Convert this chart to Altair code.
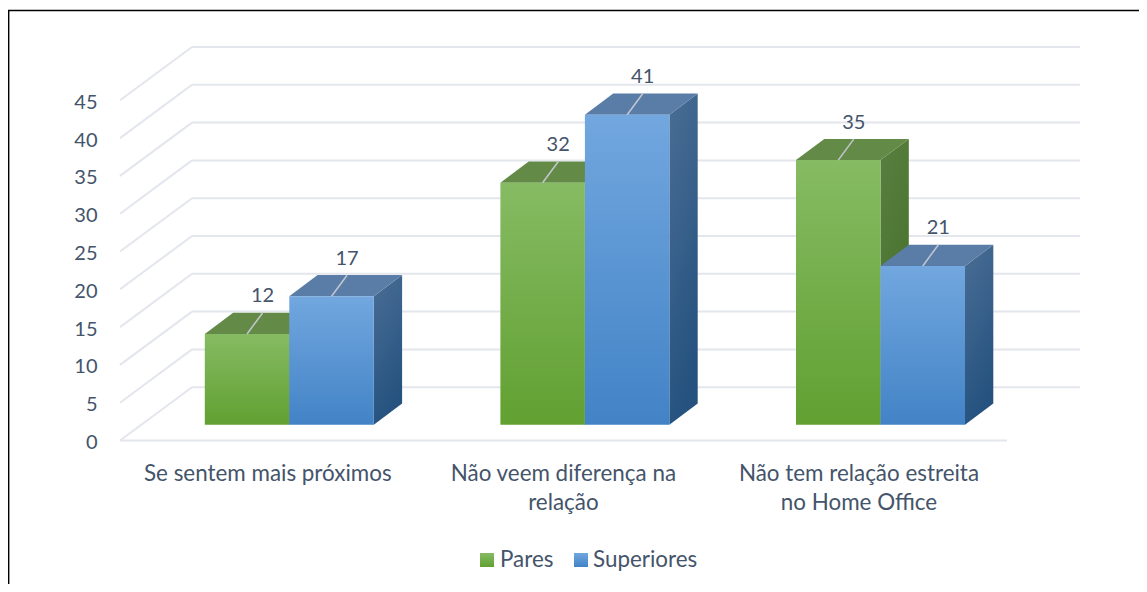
import altair as alt
import pandas as pd

# ---- values ----
categories = ["Se sentem mais próximos", "Não veem diferença na\nrelação", "Não tem relação estreita\nno Home Office"]
pares = [12, 32, 35]
superiores = [17, 41, 21]
y_ticks = [0, 5, 10, 15, 20, 25, 30, 35, 40, 45]
legend_names = ["Pares", "Superiores"]

# ---- layout (page pixels -> scale units) ----
W, H = 1131, 576
PX_PER_UNIT = 7.56
ZERO_PX = 440.5
def X(px): return px - 8
def V(py): return (ZERO_PX - py) / PX_PER_UNIT

xs = alt.Scale(domain=[0, W], range=[0, W], nice=False, zero=False)
ys = alt.Scale(domain=[V(8 + H), V(8)], range=[H, 0], nice=False, zero=False)
INK = "#44546A"
FONT = "Lato"
GRID = "#E3E6EC"
TEXT_SIZE = 22.4
NUM_SIZE = 20

BACK_RISE = 53.3 / PX_PER_UNIT
BASE = (ZERO_PX - 424.7) / PX_PER_UNIT
D_X, D_Y = 28.3, 21.2 / PX_PER_UNIT
GROUP_LEFT = [204.8, 500.4, 796.0]
BAR_W = 84.5

Y_AXIS = alt.Axis(values=y_ticks, title=None, domain=False, ticks=False, grid=False,
                  labelFont=FONT, labelFontSize=NUM_SIZE, labelColor=INK, labelPadding=0,
                  offset=-89, labelFlush=False, labelOverlap=False, labelOffset=2)

def grad(c1, c2, x2=0, y2=1):
    return alt.Gradient(gradient="linear", x1=0, y1=0, x2=x2, y2=y2,
                        stops=[alt.GradientStop(offset=0, color=c1), alt.GradientStop(offset=1, color=c2)])
def X_(f): return alt.X(f, type="quantitative", scale=xs, axis=None)
def Y_(f): return alt.Y(f, type="quantitative", scale=ys, axis=Y_AXIS)

# grid
grid_rows = []
for t in y_ticks:
    grid_rows.append(dict(x=X(120), x2=X(192), y=t, y2=t + BACK_RISE))
    grid_rows.append(dict(x=X(192), x2=X(1080), y=t + BACK_RISE, y2=t + BACK_RISE))
grid_rows.append(dict(x=X(120), x2=X(1007), y=0, y2=0))
grid = alt.Chart(pd.DataFrame(grid_rows)).mark_rule(color=GRID, strokeWidth=2).encode(
    x=X_("x"), x2="x2", y=Y_("y"), y2="y2")

def series(values, offset, front, side, top):
    f_rows, s_rows, t_rows = [], [], []
    for i, v in enumerate(values):
        x0 = X(GROUP_LEFT[i] + offset * BAR_W)
        x1 = x0 + BAR_W
        f_rows.append(dict(x=x0, x2=x1, y=BASE, y2=BASE + v))
        s_rows += [dict(g=i, x=x1, y=BASE, y2=BASE + v), dict(g=i, x=x1 + D_X, y=BASE + D_Y, y2=BASE + D_Y + v)]
        t_rows += [dict(g=i, y=BASE + v, x=x0, x2=x1), dict(g=i, y=BASE + v + D_Y, x=x0 + D_X, x2=x1 + D_X)]
    fr = alt.Chart(pd.DataFrame(f_rows)).mark_rect(color=grad(*front)).encode(
        x=X_("x"), x2="x2", y=Y_("y"), y2="y2")
    sd = alt.Chart(pd.DataFrame(s_rows)).mark_area(color=grad(side[0], side[1], x2=0.3, y2=1)).encode(
        x=X_("x"), y=Y_("y"), y2="y2", detail="g:N")
    tp = alt.Chart(pd.DataFrame(t_rows)).mark_area(color=top, orient="horizontal").encode(
        y=Y_("y"), x=X_("x"), x2="x2", detail="g:N")
    return [sd, tp, fr]

GREEN = ("#86BB63", "#61A031")
BLUE = ("#72A7DF", "#4283C6")
bars = series(pares, 0, GREEN, ("#587F3F", "#466F2A"), "#638B47") + \
       series(superiores, 1, BLUE, ("#4A6E95", "#25527F"), "#5A7DA8")

# value labels + leader lines
rows = []
for off, vals in ((0, pares), (1, superiores)):
    for i, v in enumerate(vals):
        mid = X(GROUP_LEFT[i] + (off + 0.5) * BAR_W)
        rows.append(dict(x=mid, x2=mid + 15.5, y=BASE + v, y2=BASE + v + 21 / PX_PER_UNIT,
                         ty=BASE + v + 31.5 / PX_PER_UNIT, label=str(v)))
lab = pd.DataFrame(rows)
leaders = alt.Chart(lab).mark_rule(color="#C3C7CF", strokeWidth=1.5).encode(x=X_("x"), x2="x2", y=Y_("y"), y2="y2")
labels = alt.Chart(lab).mark_text(font=FONT, fontSize=NUM_SIZE, color=INK, baseline="alphabetic", align="center").encode(
    x=X_("x2"), y=Y_("ty"), text="label:N")

# category labels
cat = pd.DataFrame({"c": categories,
                    "x": [X(g + 63) for g in GROUP_LEFT],
                    "y": [V(480.7)] * 3})
cat_text = alt.Chart(cat).mark_text(font=FONT, fontSize=TEXT_SIZE, color=INK, baseline="alphabetic", align="center",
                                    lineBreak="\n", lineHeight=29.5).encode(x=X_("x"), y=Y_("y"), text="c:N")

# legend
leg = pd.DataFrame({"name": legend_names, "x": [X(480), X(574)], "x2": [X(494), X(588)],
                    "tx": [X(500), X(593)], "y": [V(567)] * 2, "y2": [V(553)] * 2, "ty": [V(567.3)] * 2})
leg_g = alt.Chart(leg[leg.name == "Pares"]).mark_rect(color=grad(*GREEN)).encode(x=X_("x"), x2="x2", y=Y_("y"), y2="y2")
leg_b = alt.Chart(leg[leg.name == "Superiores"]).mark_rect(color=grad(*BLUE)).encode(x=X_("x"), x2="x2", y=Y_("y"), y2="y2")
leg_t = alt.Chart(leg).mark_text(font=FONT, fontSize=TEXT_SIZE, color=INK, align="left", baseline="alphabetic").encode(
    x=X_("tx"), y=Y_("ty"), text="name:N")

# outer frame
frame = alt.Chart(pd.DataFrame([
    dict(x=0.6, x2=0.6, y=V(10), y2=V(8 + H)),
    dict(x=0, x2=W, y=V(10.5), y2=V(10.5)),
])).mark_rule(color="#000000", strokeWidth=1.6).encode(x=X_("x"), x2="x2", y=Y_("y"), y2="y2")

chart = alt.layer(grid, *bars, leaders, labels, cat_text, leg_g, leg_b, leg_t, frame).properties(
    width=W, height=H, padding=0, autosize=alt.AutoSizeParams(type="none"),
    background="white",
).configure_view(stroke=None)

chart.save("out.html", embed_options={"renderer": "svg", "actions": False})
